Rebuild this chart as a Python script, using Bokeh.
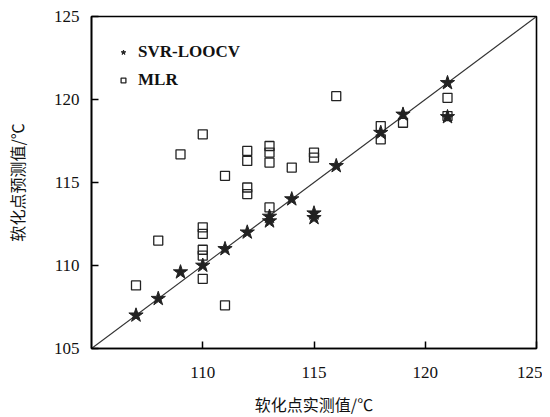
from bokeh.plotting import figure
from bokeh.models import FixedTicker, Legend, LegendItem
from bokeh.embed import file_html
from bokeh.resources import INLINE

# data
svr_actual = [107, 108, 109, 110, 111, 112, 113, 113, 114, 115, 115, 116, 118, 119, 121, 121]
svr_pred = [107.0, 108.0, 109.6, 110.0, 111.0, 112.0, 112.95, 112.67, 114.0, 113.15, 112.87, 116.0, 118.0, 119.1, 121.0, 118.95]

mlr_actual = [107, 108, 109, 110, 110, 110, 110, 110, 110, 111, 111, 112, 112, 112, 112,
              113, 113, 113, 113, 114, 115, 115, 116, 118, 118, 119, 121, 121]
mlr_pred = [108.8, 111.5, 116.7, 117.9, 112.3, 111.9, 110.95, 110.6, 109.2, 115.4, 107.6,
            116.9, 116.3, 114.7, 114.3, 117.2, 116.8, 116.2, 113.5, 115.9, 116.8, 116.5,
            120.2, 118.4, 117.6, 118.6, 120.1, 119.0]

x_ticks = [110, 115, 120, 125]
y_ticks = [105, 110, 115, 120, 125]
ref_line = [105, 125]

p = figure(frame_width=445, frame_height=332, output_backend="svg", toolbar_location=None,
           x_range=(105, 125), y_range=(105, 125),
           min_border_left=91, min_border_right=6, min_border_top=16,
           min_border_bottom=40)
p.background_fill_color = "white"
p.grid.visible = False
p.outline_line_color = "black"
p.outline_line_width = 1.6

for ax in (p.xaxis[0], p.yaxis[0]):
    ax.axis_line_color = "black"
    ax.axis_line_width = 1.6
    ax.major_tick_in = 7
    ax.major_tick_out = 0
    ax.major_tick_line_width = 1.5
    ax.minor_tick_line_color = None
    ax.major_label_text_font = "Liberation Serif"
    ax.major_label_text_font_size = "17px"
    ax.major_label_text_color = "#111111"
    ax.axis_label_text_font = "Noto Sans CJK SC"
    ax.axis_label_text_font_size = "16px"
    ax.axis_label_text_font_style = "normal"
    ax.axis_label_text_color = "#111111"

p.xaxis.ticker = FixedTicker(ticks=x_ticks)
p.yaxis.ticker = FixedTicker(ticks=y_ticks)
p.xaxis.major_label_standoff = 18
p.yaxis.major_label_standoff = 12
p.xaxis.axis_label = "软化点实测值/℃"
p.yaxis.axis_label = "软化点预测值/℃"
p.xaxis.axis_label_standoff = 11
p.yaxis.axis_label_standoff = 22

p.line(ref_line, ref_line, line_color="#333333", line_width=1.1)

r_mlr = p.scatter(mlr_actual, mlr_pred, marker="square", size=9,
                  fill_color="white", fill_alpha=0.0, line_color="#222222", line_width=1.3)
r_svr = p.scatter(svr_actual, svr_pred, marker="star", size=15,
                  fill_color="#222222", line_color="#222222", line_width=1)

legend = Legend(items=[LegendItem(label="SVR-LOOCV", renderers=[r_svr]),
                       LegendItem(label="MLR", renderers=[r_mlr])],
                location="top_left")
legend.border_line_color = None
legend.background_fill_alpha = 0
legend.label_text_font = "Liberation Serif"
legend.label_text_font_style = "bold"
legend.label_text_font_size = "17px"
legend.label_text_color = "#111111"
legend.glyph_width = 12
legend.glyph_height = 12
legend.spacing = 8
legend.margin = 26
legend.padding = 4
legend.label_standoff = 9
p.add_layout(legend)

open("out.html", "w").write(file_html(p, INLINE))
